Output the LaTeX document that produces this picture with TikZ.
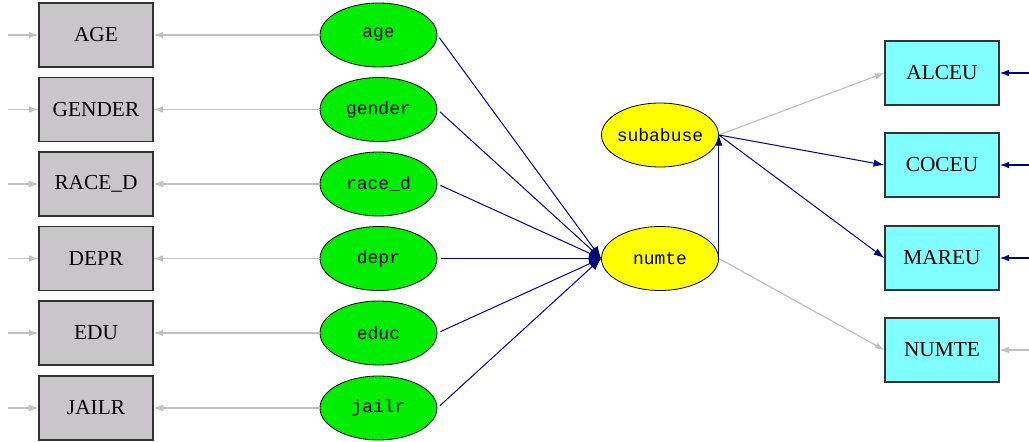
\documentclass[tikz,border=0pt]{standalone}
\usepackage{fontspec}
\setmainfont{Liberation Serif}
\newfontfamily\monofnt{Liberation Mono}
\usetikzlibrary{arrows.meta,shapes.geometric}
\definecolor{boxgray}{RGB}{200,198,200}
\definecolor{lgreen}{RGB}{0,238,0}
\definecolor{lyellow}{RGB}{255,255,0}
\definecolor{lcyan}{RGB}{128,255,255}
\definecolor{navy}{RGB}{0,0,128}
\definecolor{lgray}{RGB}{192,192,192}
\tikzset{
  obsbox/.style={draw=black!80, line width=1.1pt, minimum width=85.5pt, minimum height=48pt, inner sep=0pt, font=\fontsize{16}{18}\selectfont},
  grayobs/.style={obsbox, fill=boxgray},
  cyanobs/.style={obsbox, fill=lcyan},
  latent/.style={ellipse, draw=black, line width=0.6pt, minimum width=87.75pt, minimum height=48pt, inner ysep=0pt, inner xsep=-6pt, font=\monofnt\fontsize{13.5}{15}\selectfont},
  greenlat/.style={latent, fill=lgreen},
  yellowlat/.style={latent, fill=lyellow},
  grayarr/.style={draw=lgray, line width=0.9pt, -{Latex[length=7pt,width=5pt]}},
  bluearr/.style={draw=navy, line width=0.75pt, -{Latex[length=8pt,width=5.5pt]}},
  blueconv/.style={draw=navy, line width=0.75pt, shorten <=2.5pt, -{Latex[length=9pt,width=7pt]}},
  errgray/.style={draw=lgray, line width=0.9pt, -{Latex[length=7pt,width=5pt]}},
  errblue/.style={draw=navy, line width=0.9pt, -{Latex[length=7pt,width=5pt]}},
}
\begin{document}
\begin{tikzpicture}[x=0.75pt,y=-0.75pt]
\useasboundingbox (0,0) rectangle (1029,442);
% left observed boxes
\node[grayobs] (AGE)    at (96,35)    {AGE};
\node[grayobs] (GENDER) at (96,109.5) {GENDER};
\node[grayobs] (RACED)  at (96,184)   {RACE\_D};
\node[grayobs] (DEPR)   at (96,258.5) {DEPR};
\node[grayobs] (EDU)    at (96,333)   {EDU};
\node[grayobs] (JAILR)  at (96,408)   {JAILR};
% latent ellipses
\node[greenlat] (age)    at (378.5,35)    {age};
\node[greenlat] (gender) at (378.5,109.5) {gender};
\node[greenlat] (raced)  at (378.5,184)   {race\_d};
\node[greenlat] (depr)   at (378.5,258.5) {depr};
\node[greenlat] (educ)   at (378.5,333)   {educ};
\node[greenlat] (jailr)  at (378.5,408)   {jailr};
\node[yellowlat] (subabuse) at (660,135) {subabuse};
\node[yellowlat] (numte)    at (660,258.5) {numte};
% right boxes
\node[cyanobs] (ALCEU) at (942,73)  {ALCEU};
\node[cyanobs] (COCEU) at (942,165) {COCEU};
\node[cyanobs] (MAREU) at (942,258) {MAREU};
\node[cyanobs] (NUMTE) at (942,350) {NUMTE};
% error coordinates
\foreach \n/\y in {AGE/35,GENDER/109.5,RACED/184,DEPR/258.5,EDU/333,JAILR/408}{
  \coordinate (e\n) at (8,\y);
  \draw[errgray] (e\n) -- (\n);
}
\foreach \n/\y in {ALCEU/73,COCEU/165,MAREU/258}{
  \coordinate (e\n) at (1029,\y);
  \draw[errblue] (e\n) -- (\n);
}
\coordinate (eNUMTE) at (1029,350);
\draw[errgray] (eNUMTE) -- (NUMTE);
% latent to indicators
\draw[grayarr] (age) -- (AGE);
\draw[grayarr] (gender) -- (GENDER);
\draw[grayarr] (raced) -- (RACED);
\draw[grayarr] (depr) -- (DEPR);
\draw[grayarr] (educ) -- (EDU);
\draw[grayarr] (jailr) -- (JAILR);
% latent to numte
\foreach \s in {age,gender,raced,depr,educ,jailr}{
  \draw[blueconv] (\s.east) -- (numte.west);
}
% numte to subabuse
\draw[bluearr] (numte.east) -- (subabuse.east);
% subabuse to indicators
\draw[grayarr] (subabuse.east) -- (ALCEU.west);
\draw[bluearr] (subabuse.east) -- (COCEU.west);
\draw[bluearr] (subabuse.east) -- (MAREU.west);
\draw[grayarr] (numte.east) -- (NUMTE.west);
\end{tikzpicture}
\end{document}
